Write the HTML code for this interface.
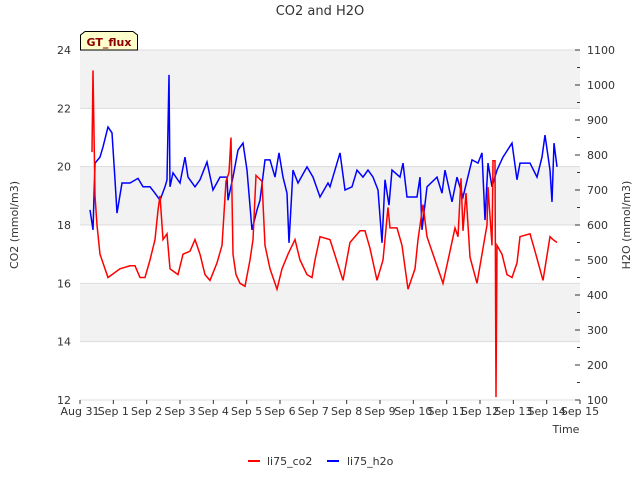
<!DOCTYPE html>
<html><head><meta charset="utf-8"><style>
body{margin:0;background:#fff;font-family:"Liberation Sans","DejaVu Sans",sans-serif;}
svg text{font-family:"DejaVu Sans","Liberation Sans",sans-serif;}
</style></head><body>
<svg id="c" width="640" height="480" xmlns="http://www.w3.org/2000/svg">
<text x="320" y="15" text-anchor="middle" font-size="13" fill="#333">CO2 and H2O</text>
<g id="bands"></g><g id="axes"></g>
<g><polyline id="h2o" fill="none" stroke="#0000ff" stroke-width="1.5"/>
<polyline id="co2" fill="none" stroke="#ff0000" stroke-width="1.5"/></g>
<g><path d="M80.5,50 L80.5,35 L85,31.5 L133,31.5 L137.5,35 L137.5,50 Z" fill="#ffffcc" stroke="#000"/>
<text x="109" y="46" text-anchor="middle" font-size="11" font-weight="bold" fill="#8b0000">GT_flux</text></g>
<text transform="translate(18,225) rotate(-90)" text-anchor="middle" font-size="11" fill="#333">CO2 (mmol/m3)</text>
<text transform="translate(630,225) rotate(-90)" text-anchor="middle" font-size="11" fill="#333">H2O (mmol/m3)</text>
<text x="566" y="433" text-anchor="middle" font-size="11" fill="#333">Time</text>
<g><line x1="248" y1="461" x2="260" y2="461" stroke="#f00" stroke-width="2"/><text x="267" y="465" font-size="11" fill="#333">li75_co2</text></g>
<g><line x1="327" y1="461" x2="339" y2="461" stroke="#00f" stroke-width="2"/><text x="347" y="465" font-size="11" fill="#333">li75_h2o</text></g>
</svg>
<script>
const xTickLabels=["Aug 31","Sep 1","Sep 2","Sep 3","Sep 4","Sep 5","Sep 6","Sep 7","Sep 8","Sep 9","Sep 10","Sep 11","Sep 12","Sep 13","Sep 14","Sep 15"];
const leftTicks=[12,14,16,18,20,22,24];
const rightTicks=[100,200,300,400,500,600,700,800,900,1000,1100];
const co2Days=[0.36,0.39,0.45,0.51,0.6,0.84,1.2,1.5,1.65,1.8,1.95,2.1,2.25,2.34,2.4,2.49,2.61,2.7,2.94,3.09,3.3,3.45,3.6,3.75,3.9,4.11,4.26,4.38,4.47,4.53,4.59,4.68,4.8,4.95,5.1,5.19,5.28,5.46,5.55,5.7,5.91,6.06,6.24,6.45,6.6,6.81,6.96,7.05,7.2,7.5,7.89,8.1,8.4,8.55,8.7,8.91,9.09,9.24,9.3,9.51,9.66,9.84,10.05,10.14,10.29,10.41,10.59,10.89,11.1,11.25,11.34,11.43,11.49,11.58,11.7,11.91,12.09,12.21,12.24,12.36,12.39,12.45,12.48,12.51,12.66,12.81,12.96,13.11,13.2,13.5,13.65,13.89,14.1,14.19,14.31];
const co2Vals=[20.5,23.3,19,18,17,16.2,16.5,16.6,16.6,16.2,16.2,16.8,17.5,18.5,19,17.5,17.7,16.5,16.3,17,17.1,17.5,17,16.3,16.1,16.7,17.3,19.5,19.8,21,17,16.3,16,15.9,16.8,17.5,19.7,19.5,17.3,16.5,15.8,16.5,17,17.5,16.8,16.3,16.2,16.8,17.6,17.5,16.1,17.4,17.8,17.8,17.2,16.1,16.8,18.6,17.9,17.9,17.3,15.8,16.5,17.5,18.7,17.6,17.0,16.0,17.1,17.9,17.6,19.6,17.8,19.1,16.9,16.0,17.2,18.0,19.3,17.3,20.2,20.2,12.1,17.3,17.0,16.3,16.2,16.7,17.6,17.7,17.1,16.1,17.6,17.5,17.4];
const h2oDays=[0.3,0.39,0.45,0.6,0.69,0.84,0.96,1.05,1.11,1.26,1.5,1.74,1.89,2.1,2.25,2.4,2.55,2.61,2.67,2.7,2.79,3.0,3.15,3.24,3.45,3.6,3.81,3.99,4.2,4.41,4.44,4.59,4.74,4.89,5.01,5.16,5.31,5.4,5.55,5.7,5.85,5.97,6.09,6.21,6.27,6.39,6.54,6.81,6.99,7.2,7.44,7.5,7.8,7.95,8.16,8.31,8.49,8.64,8.79,8.94,9.06,9.15,9.27,9.36,9.6,9.69,9.81,10.11,10.2,10.26,10.41,10.71,10.86,10.95,11.16,11.31,11.49,11.76,11.94,12.06,12.15,12.24,12.36,12.51,12.69,12.96,13.11,13.2,13.5,13.71,13.86,13.95,14.1,14.16,14.22,14.31];
const h2oVals=[643,586,777,794,823,880,863,729,634,720,720,733,709,709,691,671,709,729,1029,709,749,720,794,737,709,729,780,700,737,737,671,737,814,834,757,586,643,671,786,786,737,806,737,691,549,757,720,766,737,680,720,709,806,700,709,757,737,757,737,700,549,729,657,757,737,777,680,680,737,586,709,737,691,757,666,737,680,786,777,806,614,777,709,757,794,834,729,777,777,737,794,857,757,666,834,766];
const X0=80,X1=580,Y0=50,Y1=400;
const xs=d=>X0+d*(X1-X0)/15;
const yl=v=>Y1-(v-12)*(Y1-Y0)/12;
const yr=v=>Y1-(v-100)*(Y1-Y0)/1000;
const NS="http://www.w3.org/2000/svg";
function mk(tag,attrs,parent){const e=document.createElementNS(NS,tag);for(const k in attrs)e.setAttribute(k,attrs[k]);parent.appendChild(e);return e;}
const bands=document.getElementById('bands'),axes=document.getElementById('axes');
const bg=mk('rect',{x:X0,y:Y0,width:X1-X0,height:Y1-Y0,fill:'#fff'},bands);


[[22,24],[18,20],[14,16]].forEach(b=>{const r=mk('rect',{x:X0,y:yl(b[1]),width:X1-X0,height:yl(b[0])-yl(b[1]),fill:'#f2f2f2'},bands);

});
leftTicks.forEach(v=>{const l=mk('line',{x1:X0,x2:X1,y1:yl(v),y2:yl(v),stroke:'#dcdcdc'},bands);


const t=mk('text',{x:71,y:yl(v)+4,'text-anchor':'end','font-size':11,fill:'#333'},axes);t.textContent=v;

});
rightTicks.forEach(v=>{mk('line',{x1:X1-5,x2:X1,y1:yr(v),y2:yr(v),stroke:'#333'},axes);
if(v<1100)mk('line',{x1:X1-3,x2:X1,y1:yr(v+50),y2:yr(v+50),stroke:'#333'},axes);
const t=mk('text',{x:587,y:yr(v)+4,'font-size':11,fill:'#333'},axes);t.textContent=v;

});
xTickLabels.forEach((s,i)=>{mk('line',{x1:xs(i),x2:xs(i),y1:Y1,y2:Y1+4,stroke:'#333'},axes);
const t=mk('text',{x:xs(i),y:415,'text-anchor':'middle','font-size':11,fill:'#333'},axes);t.textContent=s;

});
document.getElementById('co2').setAttribute('points',co2Days.map((d,i)=>xs(d).toFixed(1)+','+yl(co2Vals[i]).toFixed(1)).join(' '));
document.getElementById('h2o').setAttribute('points',h2oDays.map((d,i)=>xs(d).toFixed(1)+','+yr(h2oVals[i]).toFixed(1)).join(' '));
</script>
</body></html>
